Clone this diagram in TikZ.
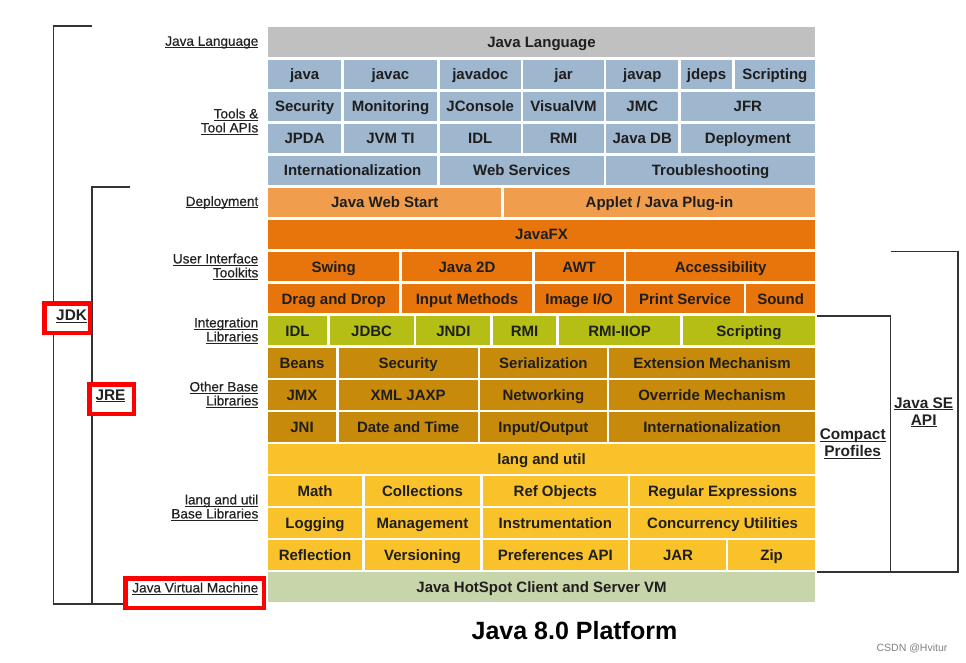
\documentclass[tikz,border=0pt]{standalone}
\usepackage{fontspec}
\setmainfont{Liberation Sans}
\newfontfamily\labelfont[FakeBold=0.4]{Liberation Sans}
\definecolor{langgray}{HTML}{C0C0C0}
\definecolor{toolblue}{HTML}{9EB6CE}
\definecolor{deplight}{HTML}{F09E4E}
\definecolor{uiorange}{HTML}{E8740C}
\definecolor{integgreen}{HTML}{B4BE14}
\definecolor{basegold}{HTML}{C88A0A}
\definecolor{langyellow}{HTML}{FAC22A}
\definecolor{vmgreen}{HTML}{C8D5AA}
\definecolor{celltext}{HTML}{1E1E1E}
\definecolor{labeltext}{HTML}{222222}
\definecolor{bracketcol}{HTML}{333333}
\newcommand{\myul}[1]{\setbox0\hbox{#1}\rlap{\rule[-2pt]{\wd0}{0.9pt}}\box0}
\newcommand{\cell}[6]{\node[cellbox, fill=#5, minimum width={#3pt-#2pt-2.5pt}] (#1) at ({(#2+#3)/2},{42.25+(#4-1)*32.05}) {#6};}
\tikzset{
  cellbox/.style={draw=none, inner sep=0pt, minimum height=29.5pt, text=celltext,
    text height=10.8pt, text depth=0pt,
    font=\bfseries\fontsize{15}{18}\selectfont},
  leftlabel/.style={anchor=east, inner sep=0pt, align=right, text=labeltext,
    font=\labelfont\fontsize{13.6}{14}\selectfont},
  rightlabel/.style={inner sep=0pt, align=center, text=labeltext,
    font=\bfseries\fontsize{15.4}{17}\selectfont},
  redbox/.style={draw=red, line width=4.5pt, fill=white, inner sep=0pt},
  bracket/.style={draw=bracketcol, line width=1.1pt},
}
\begin{document}
\begin{tikzpicture}[x=1pt,y=-1pt]
\useasboundingbox (0,0) rectangle (966,663);
\fill[white] (0,0) rectangle (966,663);
\def\L{266.75}
\def\R{816.25}
% row 1
\cell{r1c1}{\L}{\R}{1}{langgray}{Java Language}
% row 2
\cell{r2c1}{\L}{342.5}{2}{toolblue}{java}
\cell{r2c2}{342.5}{438.5}{2}{toolblue}{javac}
\cell{r2c3}{438.5}{522}{2}{toolblue}{javadoc}
\cell{r2c4}{522}{605}{2}{toolblue}{jar}
\cell{r2c5}{605}{679.5}{2}{toolblue}{javap}
\cell{r2c6}{679.5}{733.5}{2}{toolblue}{jdeps}
\cell{r2c7}{733.5}{\R}{2}{toolblue}{Scripting}
% row 3
\cell{r3c1}{\L}{342.5}{3}{toolblue}{Security}
\cell{r3c2}{342.5}{438.5}{3}{toolblue}{Monitoring}
\cell{r3c3}{438.5}{522}{3}{toolblue}{JConsole}
\cell{r3c4}{522}{605}{3}{toolblue}{VisualVM}
\cell{r3c5}{605}{679.5}{3}{toolblue}{JMC}
\cell{r3c6}{679.5}{\R}{3}{toolblue}{JFR}
% row 4
\cell{r4c1}{\L}{342.5}{4}{toolblue}{JPDA}
\cell{r4c2}{342.5}{438.5}{4}{toolblue}{JVM TI}
\cell{r4c3}{438.5}{522}{4}{toolblue}{IDL}
\cell{r4c4}{522}{605}{4}{toolblue}{RMI}
\cell{r4c5}{605}{679.5}{4}{toolblue}{Java DB}
\cell{r4c6}{679.5}{\R}{4}{toolblue}{Deployment}
% row 5
\cell{r5c1}{\L}{438.5}{5}{toolblue}{Internationalization}
\cell{r5c2}{438.5}{605}{5}{toolblue}{Web Services}
\cell{r5c3}{605}{\R}{5}{toolblue}{Troubleshooting}
% row 6
\cell{r6c1}{\L}{502.7}{6}{deplight}{Java Web Start}
\cell{r6c2}{502.7}{\R}{6}{deplight}{Applet / Java Plug-in}
% row 7
\cell{r7c1}{\L}{\R}{7}{uiorange}{JavaFX}
% row 8
\cell{r8c1}{\L}{400.7}{8}{uiorange}{Swing}
\cell{r8c2}{400.7}{533.3}{8}{uiorange}{Java 2D}
\cell{r8c3}{533.3}{625}{8}{uiorange}{AWT}
\cell{r8c4}{625}{\R}{8}{uiorange}{Accessibility}
% row 9
\cell{r9c1}{\L}{400.7}{9}{uiorange}{Drag and Drop}
\cell{r9c2}{400.7}{533.3}{9}{uiorange}{Input Methods}
\cell{r9c3}{533.3}{625}{9}{uiorange}{Image I/O}
\cell{r9c4}{625}{745}{9}{uiorange}{Print Service}
\cell{r9c5}{745}{\R}{9}{uiorange}{Sound}
% row 10
\cell{r10c1}{\L}{328.3}{10}{integgreen}{IDL}
\cell{r10c2}{328.3}{415}{10}{integgreen}{JDBC}
\cell{r10c3}{415}{491.7}{10}{integgreen}{JNDI}
\cell{r10c4}{491.7}{557.4}{10}{integgreen}{RMI}
\cell{r10c5}{557.4}{681.7}{10}{integgreen}{RMI-IIOP}
\cell{r10c6}{681.7}{\R}{10}{integgreen}{Scripting}
% row 11
\cell{r11c1}{\L}{337.3}{11}{basegold}{Beans}
\cell{r11c2}{337.3}{479}{11}{basegold}{Security}
\cell{r11c3}{479}{607.8}{11}{basegold}{Serialization}
\cell{r11c4}{607.8}{\R}{11}{basegold}{Extension Mechanism}
% row 12
\cell{r12c1}{\L}{337.3}{12}{basegold}{JMX}
\cell{r12c2}{337.3}{479}{12}{basegold}{XML JAXP}
\cell{r12c3}{479}{607.8}{12}{basegold}{Networking}
\cell{r12c4}{607.8}{\R}{12}{basegold}{Override Mechanism}
% row 13
\cell{r13c1}{\L}{337.3}{13}{basegold}{JNI}
\cell{r13c2}{337.3}{479}{13}{basegold}{Date and Time}
\cell{r13c3}{479}{607.8}{13}{basegold}{Input/Output}
\cell{r13c4}{607.8}{\R}{13}{basegold}{Internationalization}
% row 14
\cell{r14c1}{\L}{\R}{14}{langyellow}{lang and util}
% row 15
\cell{r15c1}{\L}{363.3}{15}{langyellow}{Math}
\cell{r15c2}{363.3}{481.7}{15}{langyellow}{Collections}
\cell{r15c3}{481.7}{629}{15}{langyellow}{Ref Objects}
\cell{r15c4}{629}{\R}{15}{langyellow}{Regular Expressions}
% row 16
\cell{r16c1}{\L}{363.3}{16}{langyellow}{Logging}
\cell{r16c2}{363.3}{481.7}{16}{langyellow}{Management}
\cell{r16c3}{481.7}{629}{16}{langyellow}{Instrumentation}
\cell{r16c4}{629}{\R}{16}{langyellow}{Concurrency Utilities}
% row 17
\cell{r17c1}{\L}{363.3}{17}{langyellow}{Reflection}
\cell{r17c2}{363.3}{481.7}{17}{langyellow}{Versioning}
\cell{r17c3}{481.7}{629}{17}{langyellow}{Preferences API}
\cell{r17c4}{629}{727}{17}{langyellow}{JAR}
\cell{r17c5}{727}{\R}{17}{langyellow}{Zip}
% row 18
\cell{r18c1}{\L}{\R}{18}{vmgreen}{Java HotSpot Client and Server VM}

% left brackets
\coordinate (jdkT) at (91.5,26);
\coordinate (jdkTL) at (53.5,26);
\coordinate (jdkBL) at (53.5,604);
\coordinate (jreT) at (130,187);
\coordinate (jreTL) at (92,187);
\coordinate (jreBL) at (92,604);
\coordinate (bEnd) at (130,604);
\draw[bracket] (jdkT) -- (jdkTL) -- (jdkBL) -- (bEnd);
\draw[bracket] (jreT) -- (jreTL) -- (jreBL);

% right brackets
\coordinate (cpTL) at (816.5,316);
\coordinate (cpTR) at (890.7,316);
\coordinate (cpBR) at (890.7,572);
\coordinate (seTL) at (890.7,251.7);
\coordinate (seTR) at (958,251.7);
\coordinate (seBR) at (958,572);
\coordinate (cpBL) at (816.5,572);
\draw[bracket] (cpTL) -- (cpTR) -- (cpBR);
\draw[bracket] (seTL) -- (seTR) -- (seBR) -- (cpBL);

% left labels
\node[leftlabel] (lJL) at (258.5,42.5) {\myul{Java Language}};
\node[leftlabel] (lTools) at (258.5,121.5) {\myul{Tools \&}\\\myul{Tool APIs}};
\node[leftlabel] (lDep) at (258.5,202.5) {\myul{Deployment}};
\node[leftlabel] (lUI) at (258.5,266.5) {\myul{User Interface}\\\myul{Toolkits}};
\node[leftlabel] (lInt) at (258.5,330.5) {\myul{Integration}\\\myul{Libraries}};
\node[leftlabel] (lOB) at (258.5,394.5) {\myul{Other Base}\\\myul{Libraries}};
\node[leftlabel] (lLU) at (258.5,507.5) {\myul{lang and util}\\\myul{Base Libraries}};

% red boxes and their labels
\node[redbox, minimum width=45.5pt, minimum height=29.5pt] (jdkbox) at (67,318) {};
\node[rightlabel] (lJDK) at (71.6,316.5) {\myul{JDK}};
\node[redbox, minimum width=44.5pt, minimum height=29.5pt] (jrebox) at (111.5,399) {};
\node[rightlabel] (lJRE) at (110.5,396) {\myul{JRE}};
\node[redbox, minimum width=138.5pt, minimum height=29.5pt] (jvmbox) at (194.5,593) {};
\node[leftlabel] (lJVM) at (258.5,588.5) {\myul{Java Virtual Machine}};

% right labels
\node[rightlabel] (lCP) at (852.7,444) {\myul{Compact}\\\myul{Profiles}};
\node[rightlabel] (lSE) at (923.7,412.5) {\myul{Java SE}\\\myul{API}};

% title
\node[inner sep=0pt, font=\bfseries\fontsize{25}{30}\selectfont] (title) at (574.5,630.5) {Java 8.0 Platform};
\node[inner sep=0pt, text=gray, font=\fontsize{10.5}{12}\selectfont] (wm) at (912,648.5) {CSDN @Hvitur};
\end{tikzpicture}
\end{document}
